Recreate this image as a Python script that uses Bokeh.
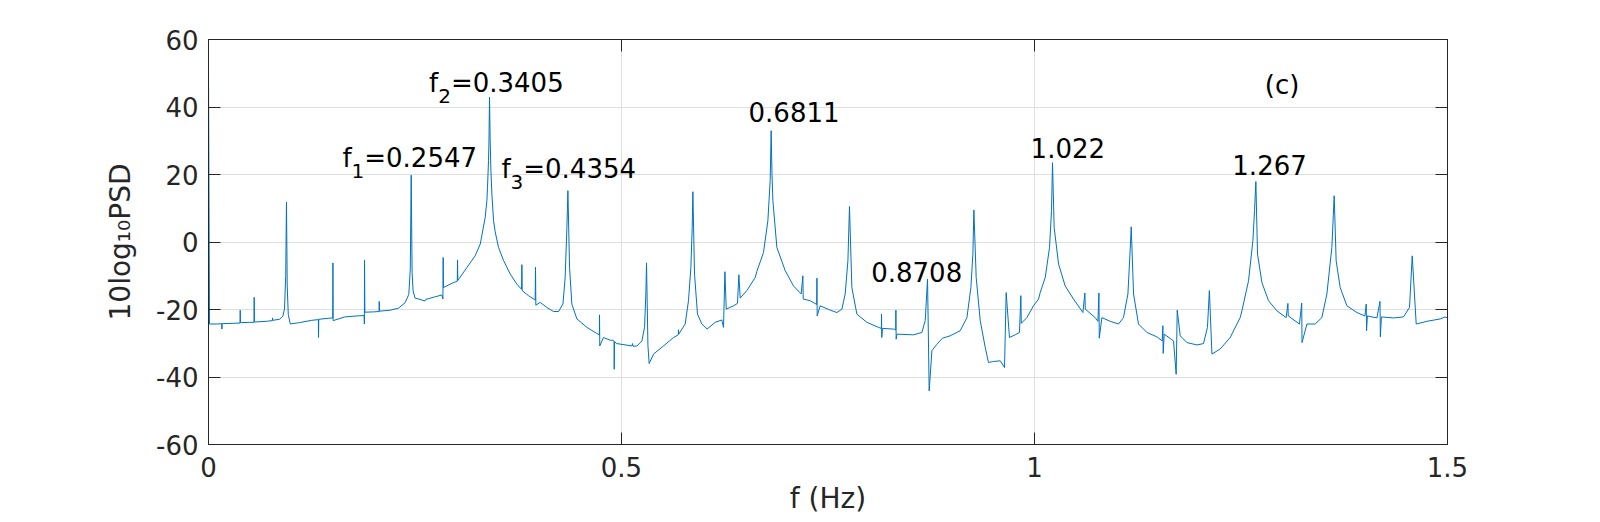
from bokeh.plotting import figure
from bokeh.models import Range1d, LinearAxis, FixedTicker, Label, CustomJSTickFormatter
from bokeh.embed import file_html
from bokeh.resources import INLINE

# ---------------- data ----------------
freq = [0.0000, 0.0012, 0.0100, 0.0160, 0.0162, 0.0165, 0.0300, 0.0382, 0.0384, 0.0387,
        0.0500, 0.0551, 0.0553, 0.0556, 0.0700, 0.0773, 0.0775, 0.0778, 0.0860, 0.0900,
        0.0920, 0.0935, 0.0944, 0.0953, 0.0966, 0.0990, 0.1100, 0.1250, 0.1330, 0.1332,
        0.1335, 0.1450, 0.1504, 0.1506, 0.1509, 0.1650, 0.1800, 0.1885, 0.1887, 0.1889,
        0.1893, 0.2000, 0.2065, 0.2067, 0.2070, 0.2200, 0.2300, 0.2380, 0.2425, 0.2443,
        0.2454, 0.2465, 0.2477, 0.2500, 0.2560, 0.2620, 0.2630, 0.2720, 0.2825, 0.2838,
        0.2841, 0.2845, 0.2950, 0.3012, 0.3015, 0.3018, 0.3130, 0.3228, 0.3290, 0.3350,
        0.3370, 0.3378, 0.3390, 0.3395, 0.3402, 0.3410, 0.3419, 0.3431, 0.3451, 0.3471,
        0.3511, 0.3571, 0.3653, 0.3734,
        0.3790, 0.3794, 0.3798, 0.3874, 0.3955, 0.3959, 0.3963, 0.4016, 0.4097, 0.4177,
        0.4237, 0.4291, 0.4318, 0.4339, 0.4351, 0.4371, 0.4399, 0.4460, 0.4581, 0.4700,
        0.4732, 0.4734, 0.4737, 0.4782, 0.4863, 0.4896, 0.4910, 0.4912, 0.4915, 0.4944,
        0.5126, 0.5134, 0.5140, 0.5187, 0.5247, 0.5279, 0.5295, 0.5303, 0.5320, 0.5335,
        0.5388, 0.5509, 0.5630, 0.5688, 0.5690, 0.5693, 0.5771, 0.5811, 0.5840, 0.5856,
        0.5864, 0.5884, 0.5920, 0.5973, 0.6036, 0.6134, 0.6215, 0.6235, 0.6252, 0.6268,
        0.6356, 0.6404, 0.6421, 0.6437, 0.6518, 0.6619, 0.6639, 0.6719, 0.6772, 0.6800,
        0.6812, 0.6822, 0.6833, 0.6881, 0.6982, 0.7082, 0.7175, 0.7196, 0.7200, 0.7285,
        0.7363, 0.7366, 0.7369, 0.7405, 0.7527, 0.7608, 0.7668, 0.7708, 0.7741, 0.7760,
        0.7789, 0.7850, 0.7971, 0.8111, 0.8146, 0.8148, 0.8151, 0.8160, 0.8293, 0.8320,
        0.8322, 0.8325, 0.8335, 0.8535, 0.8637, 0.8677, 0.8705, 0.8725, 0.8758, 0.8818,
        0.8886, 0.8979, 0.9100, 0.9182, 0.9230, 0.9254, 0.9266, 0.9294, 0.9343, 0.9403,
        0.9443, 0.9504, 0.9585, 0.9637, 0.9657, 0.9697, 0.9766, 0.9818, 0.9835, 0.9840,
        0.9908, 0.9988, 1.0049, 1.0069, 1.0130, 1.0182, 1.0206, 1.0218, 1.0238, 1.0291,
        1.0371, 1.0472, 1.0586, 1.0610, 1.0615, 1.0735, 1.0768, 1.0780, 1.0784, 1.0816,
        1.0917, 1.1017, 1.1077, 1.1131, 1.1159, 1.1171, 1.1199, 1.1259, 1.1361, 1.1482,
        1.1546, 1.1554, 1.1558, 1.1570, 1.1683, 1.1715, 1.1728, 1.1764, 1.1845, 1.1966,
        1.2046, 1.2094, 1.2117, 1.2148, 1.2248, 1.2369, 1.2490, 1.2511, 1.2591, 1.2644,
        1.2664, 1.2680, 1.2700, 1.2753, 1.2833, 1.2935, 1.3047, 1.3068, 1.3072, 1.3208,
        1.3235, 1.3239, 1.3298, 1.3398, 1.3479, 1.3540, 1.3600, 1.3628, 1.3652, 1.3701,
        1.3782, 1.3903, 1.4000, 1.4016, 1.4020, 1.4030, 1.4145, 1.4183, 1.4187, 1.4200,
        1.4346, 1.4467, 1.4540, 1.4573, 1.4621, 1.4751, 1.4912, 1.4972, 1.5000]

psd = [51.0, -24.3, -24.3, -24.2, -25.8, -24.2, -24.1, -24.0, -20.2, -23.9,
       -23.8, -23.8, -16.4, -23.7, -23.5, -23.3, -22.5, -23.2, -22.9, -22.0,
       -19.9, -10.0, 11.8, -13.0, -21.5, -24.3, -23.9, -23.2, -23.0, -28.3,
       -22.9, -22.6, -22.5, -6.2, -23.3, -22.2, -21.9, -21.8, -24.3, -5.4,
       -20.8, -20.7, -20.6, -17.6, -20.5, -20.2, -19.6, -18.0, -15.5, -8.0,
       19.8, -9.0, -14.5, -16.6, -17.0, -17.5, -17.0, -16.4, -15.7, -16.9,
       -4.6, -13.5, -12.2, -11.6, -5.3, -11.4, -7.5, -4.1, -0.6, 7.3,
       12.2, 16.2, 24.1, 29.0, 42.9, 30.0, 21.1, 14.2, 6.3, 3.0,
       -1.6, -5.4, -9.5, -12.5,
       -14.0, -6.7, -14.4, -15.9, -17.2, -7.5, -18.7, -17.9, -19.4, -20.6,
       -20.6, -18.4, -10.5, 4.3, 15.2, -7.5, -18.4, -22.8, -25.3, -27.1,
       -27.5, -21.6, -30.8, -28.3, -29.1, -29.1, -29.4, -37.7, -29.5, -30.1,
       -30.8, -30.1, -30.9, -30.8, -29.3, -25.3, -15.4, -6.2, -30.7, -36.0,
       -33.2, -30.8, -28.3, -27.5, -26.0, -27.3, -24.3, -17.4, -7.5, 4.3,
       14.9, -9.5, -21.4, -24.3, -25.8, -23.8, -23.1, -25.3, -8.8, -19.9,
       -18.9, -18.2, -9.7, -16.6, -14.4, -10.5, -8.7, -3.1, 6.3, 18.2,
       33.0, 20.0, 12.2, -1.6, -8.5, -13.0, -15.4, -10.0, -16.9, -17.4,
       -18.5, -10.7, -21.9, -18.9, -20.2, -20.9, -19.9, -15.4, -5.6, 10.5,
       -13.5, -21.4, -23.8, -25.3, -25.6, -21.4, -28.3, -25.6, -25.8, -26.0,
       -20.2, -28.8, -27.3, -27.5, -26.8, -23.3, -11.0, -44.1, -32.2, -30.3,
       -28.5, -27.8, -26.3, -22.4, -13.5, -3.6, 9.5, -10.5, -23.3, -31.2,
       -35.7, -35.4, -35.2, -37.2, -15.0, -28.3, -27.5, -26.8, -15.9, -24.1,
       -22.4, -18.9, -16.9, -15.0, -10.5, -1.6, 9.3, 23.5, 4.3, -6.5,
       -13.0, -16.9, -20.9, -15.1, -19.9, -22.4, -23.5, -15.1, -28.5, -22.4,
       -23.5, -24.3, -22.4, -15.4, -2.0, 4.5, -15.4, -24.3, -26.8, -28.1,
       -29.3, -24.8, -33.0, -27.3, -29.3, -39.2, -20.2, -27.8, -29.8, -30.5,
       -30.1, -25.3, -14.4, -33.2, -31.7, -28.3, -22.4, -20.4, -11.5, 0.4,
       9.3, 17.9, -3.6, -12.0, -17.4, -20.4, -22.4, -18.2, -21.9, -24.3,
       -18.1, -29.8, -24.3, -24.3, -22.4, -15.4, -1.6, 13.7, -5.6, -13.5,
       -18.9, -20.9, -21.9, -18.4, -26.3, -21.9, -22.5, -17.6, -28.1, -22.2,
       -22.5, -22.2, -19.4, -4.1, -24.3, -23.5, -22.8, -22.2, -22.5]

x_ticks = [0, 0.5, 1, 1.5]
x_tick_labels = ["0", "0.5", "1", "1.5"]
y_ticks = [-60, -40, -20, 0, 20, 40, 60]
y_tick_labels = ["-60", "-40", "-20", "0", "20", "40", "60"]

x_label = "f (Hz)"
y_label = "10log\u2081\u2080PSD"

# peak annotations: name, subscript, rest
sub_ann_x = [0.1621, 0.2670, 0.3546]
sub_ann_y = [24.75, 47.0, 21.5]
sub_ann_name = ["f", "f", "f"]
sub_ann_sub = ["1", "2", "3"]
sub_ann_rest = ["=0.2547", "=0.3405", "=0.4354"]

ann_x = [0.6538, 0.8023, 0.9953, 1.2395, 1.2789]
ann_y = [38.6, -8.9, 28.0, 22.8, 46.5]
ann_text = ["0.6811", "0.8708", "1.022", "1.267", "(c)"]

FONT = "DejaVu Sans"
AX = "#262626"

p = figure(width=1600, height=522, output_backend="svg", toolbar_location=None,
           x_range=Range1d(0, 1.5), y_range=Range1d(-60, 60),
           min_border_left=208, min_border_right=153, min_border_top=39, min_border_bottom=78,
           x_axis_location=None, y_axis_location=None)
p.background_fill_color = "white"
p.border_fill_color = "white"
p.outline_line_color = AX
p.outline_line_width = 1


def style_axis(ax, ticks, labels=None):
    ax.ticker = FixedTicker(ticks=ticks)
    ax.axis_line_color = AX
    ax.axis_line_width = 1
    ax.major_tick_line_color = AX
    ax.major_tick_in = 12
    ax.major_tick_out = 0
    ax.minor_tick_line_color = None
    ax.major_label_text_font = FONT
    ax.major_label_text_font_size = "26px"
    ax.major_label_text_color = AX
    if labels is None:
        ax.formatter = CustomJSTickFormatter(code="return ''")
    else:
        ax.major_label_overrides = {t: l for t, l in zip(ticks, labels)}


xb = LinearAxis(axis_label=x_label)
style_axis(xb, x_ticks, x_tick_labels)
xb.major_label_standoff = 12
xb.axis_label_standoff = 2
xb.axis_label_text_font = FONT
xb.axis_label_text_font_size = "28px"
xb.axis_label_text_font_style = "normal"
xb.axis_label_text_color = AX
p.add_layout(xb, "below")

yl = LinearAxis(axis_label=y_label)
style_axis(yl, y_ticks, y_tick_labels)
yl.major_label_standoff = 10
yl.axis_label_standoff = 16
yl.axis_label_text_font = FONT
yl.axis_label_text_font_size = "28px"
yl.axis_label_text_font_style = "normal"
yl.axis_label_text_color = AX
p.add_layout(yl, "left")

xt = LinearAxis()
style_axis(xt, x_ticks)
xt.major_label_standoff = 0
p.add_layout(xt, "above")

yr = LinearAxis()
style_axis(yr, y_ticks)
yr.major_label_standoff = 0
p.add_layout(yr, "right")

p.xgrid.ticker = FixedTicker(ticks=x_ticks)
p.ygrid.ticker = FixedTicker(ticks=y_ticks)
for g in (p.xgrid, p.ygrid):
    g.grid_line_color = "#dedede"
    g.grid_line_width = 1

p.line(freq, psd, line_color="#0072BD", line_width=1)

W_F = 0.352 * 26
W_SUB = 0.636 * 20
for x, y, nm, sb, rs in zip(sub_ann_x, sub_ann_y, sub_ann_name, sub_ann_sub, sub_ann_rest):
    p.add_layout(Label(x=x, y=y, text=nm, text_font=FONT, text_font_size="26px",
                       text_color="black", text_baseline="alphabetic", text_align="left"))
    p.add_layout(Label(x=x, y=y, x_offset=W_F, y_offset=-13, text=sb, text_font=FONT,
                       text_font_size="20px", text_color="black",
                       text_baseline="alphabetic", text_align="left"))
    p.add_layout(Label(x=x, y=y, x_offset=W_F + W_SUB, text=rs, text_font=FONT,
                       text_font_size="26px", text_color="black",
                       text_baseline="alphabetic", text_align="left"))

for x, y, t in zip(ann_x, ann_y, ann_text):
    p.add_layout(Label(x=x, y=y, text=t, text_font=FONT, text_font_size="26px",
                       text_color="black", text_baseline="alphabetic", text_align="left"))

open("out.html", "w").write(file_html(p, INLINE))
